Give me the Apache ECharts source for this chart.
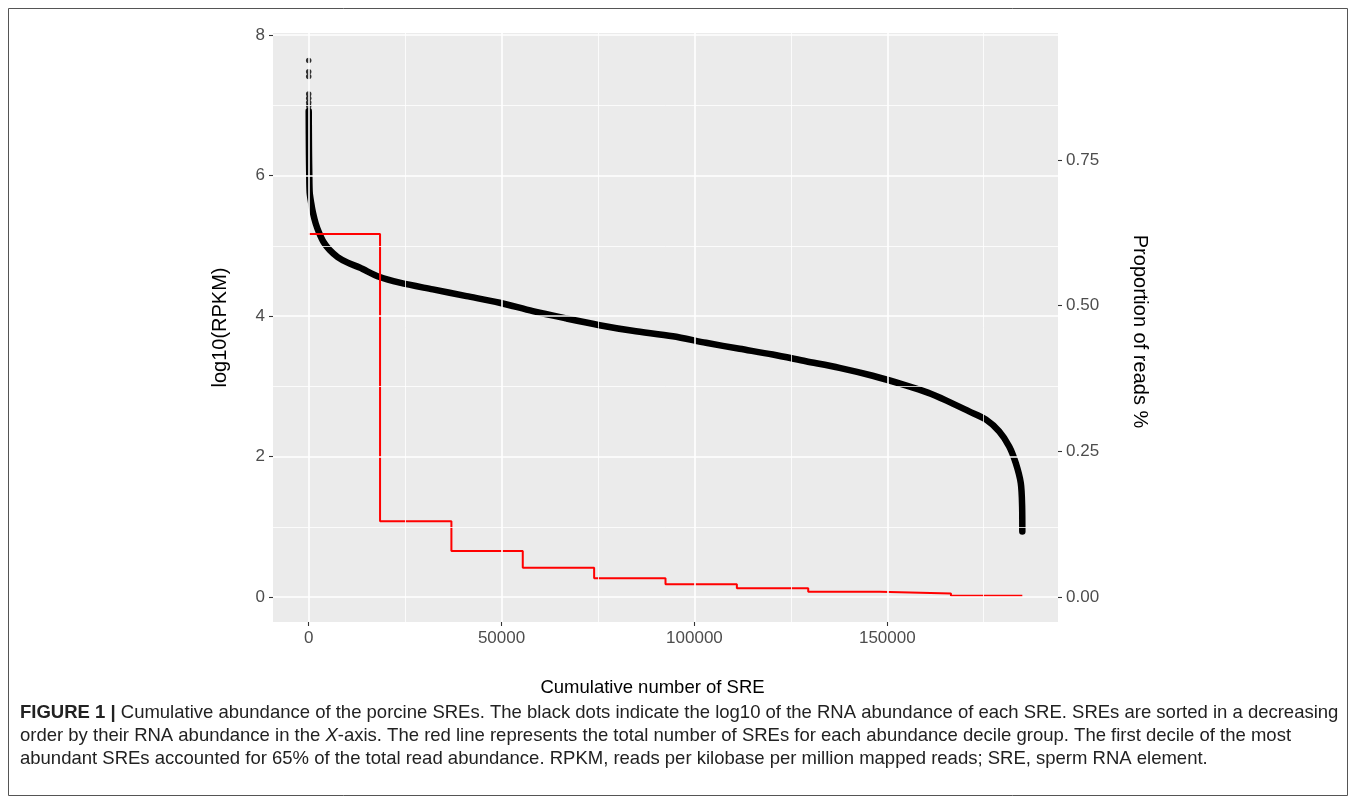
<!DOCTYPE html>
<html><head><meta charset="utf-8">
<script src="https://cdn.jsdelivr.net/npm/echarts@6/dist/echarts.min.js"></script>
<style>html,body{margin:0;padding:0;background:#fff}#c{width:1357px;height:804px}</style>
</head><body><div id="c"></div>
<script>
// ---- tick labels ----
const xTicks = [0, 50000, 100000, 150000];
const xMinorTicks = [25000, 75000, 125000, 175000];
const yTicks = [0, 2, 4, 6, 8];
const yMinorTicks = [1, 3, 5, 7];
const rightTicks = [0, 0.25, 0.5, 0.75];

// ---- black dots: log10(RPKM) of SREs sorted by abundance ----
const topOutlierX = [1, 2, 3, 4, 5, 6, 7];
const topOutlierY = [7.64, 7.48, 7.41, 7.16, 7.10, 7.04, 6.99];
const curveX = [10, 40, 80, 150, 260, 650, 1110, 1810, 2670, 3890, 5440, 7510, 10100, 13200, 18400,
  23600, 32200, 40900, 49500, 58100, 66800, 75400, 84000, 94400, 103000, 111700, 120300, 128900,
  137600, 146200, 155000, 160500, 165200, 171200, 175600, 179000, 181600, 183300, 184600, 184950, 185000];
const curveY = [6.92, 6.6, 6.3, 6.02, 5.76, 5.61, 5.47, 5.32, 5.19, 5.05, 4.94, 4.84, 4.76, 4.69, 4.555,
  4.475, 4.379, 4.284, 4.19, 4.07, 3.966, 3.87, 3.79, 3.713, 3.619, 3.534, 3.452, 3.357,
  3.263, 3.15, 3.01, 2.91, 2.80, 2.643, 2.525, 2.358, 2.144, 1.907, 1.622, 1.288, 0.932];

// ---- red line: proportion of reads per abundance decile ----
const decileStartX = [0, 18500, 37000, 55500, 74000, 92500, 111000, 129500, 148000, 166500];
const decileProportion = [0.623, 0.130, 0.079, 0.050, 0.032, 0.022, 0.015, 0.009, 0.006, 0.002];
const totalSRE = 185000;

const FONT = "'Liberation Sans', Arial, sans-serif";

const curveData = curveX.map((x, i) => [x, curveY[i]]);
const outlierData = topOutlierX.map((x, i) => [x, topOutlierY[i]]);
const redData = decileStartX.map((x, i) => [x, decileProportion[i]]);
redData.push([totalSRE, decileProportion[decileProportion.length - 1]]);

function gridLines(vals, key, w) {
  return {
    type: 'line', data: [], z: 1, silent: true,
    xAxisIndex: 0, yAxisIndex: 0,
    markLine: {
      silent: true, symbol: ['none', 'none'], animation: false,
      label: { show: false },
      lineStyle: { color: '#ffffff', width: w, type: 'solid' },
      emphasis: { disabled: true },
      data: vals.map(v => ({ [key]: v }))
    }
  };
}

const chart = echarts.init(document.getElementById('c'), null, { renderer: 'canvas' });
chart.setOption({
  animation: false,
  backgroundColor: '#ffffff',
  grid: { left: 273, right: 299, top: 33, bottom: 182, show: true,
          backgroundColor: '#EBEBEB', borderWidth: 0, containLabel: false },
  xAxis: {
    type: 'value', min: -9250, max: 194250,
    axisLine: { show: false, onZero: false },
    splitLine: { show: false },
    axisTick: { show: true, customValues: xTicks, length: 4, lineStyle: { color: '#333333', width: 1.1 } },
    axisLabel: { customValues: xTicks, color: '#4D4D4D', fontSize: 17, fontFamily: FONT, margin: 8,
                 formatter: v => String(v) },
    name: 'Cumulative number of SRE', nameLocation: 'middle', nameGap: 56,
    nameTextStyle: { fontSize: 18.5, color: '#000', fontFamily: FONT, padding: [0, 26, 0, 0] }
  },
  yAxis: [{
    type: 'value', min: -0.356, max: 8.03,
    axisLine: { show: false, onZero: false },
    splitLine: { show: false },
    axisTick: { show: true, customValues: yTicks, length: 4, lineStyle: { color: '#333333', width: 1.1 } },
    axisLabel: { customValues: yTicks, color: '#4D4D4D', fontSize: 17, fontFamily: FONT, margin: 8,
                 formatter: v => String(v) },
    name: 'log10(RPKM)', nameLocation: 'middle', nameRotate: 90, nameGap: 43,
    nameTextStyle: { fontSize: 20, color: '#000', fontFamily: FONT }
  }, {
    type: 'value', position: 'right', min: -0.0429, max: 0.968,
    axisLine: { show: false, onZero: false },
    splitLine: { show: false },
    axisTick: { show: true, customValues: rightTicks, length: 4, lineStyle: { color: '#333333', width: 1.1 } },
    axisLabel: { customValues: rightTicks, color: '#4D4D4D', fontSize: 17, fontFamily: FONT, margin: 8,
                 formatter: v => v.toFixed(2) },
    name: 'Proportion of reads %', nameLocation: 'middle', nameRotate: -90, nameGap: 72,
    nameTextStyle: { fontSize: 20, color: '#000', fontFamily: FONT, padding: [0, 0, 0, 8] }
  }],
  series: [
    gridLines(yMinorTicks, 'yAxis', 0.8),
    gridLines(xMinorTicks, 'xAxis', 0.8),
    gridLines(yTicks, 'yAxis', 1.6),
    gridLines(xTicks, 'xAxis', 1.6),
    {
      type: 'line', name: 'log10 RPKM', data: curveData, z: 3, silent: true,
      showSymbol: false, symbol: 'none', smooth: 0.3,
      lineStyle: { color: '#000', width: 6.5, cap: 'round', join: 'round' }
    },
    {
      type: 'scatter', name: 'top', data: outlierData, z: 3, silent: true,
      symbolSize: 5.5, itemStyle: { color: '#000' }
    },
    {
      type: 'line', name: 'Proportion', yAxisIndex: 1, data: redData, z: 4, silent: true,
      step: 'end', showSymbol: false, symbol: 'none',
      lineStyle: { color: '#FF0000', width: 2 }
    }
  ],
  graphic: [
    { type: 'rect', silent: true, shape: { x: 8.5, y: 8.5, width: 1339, height: 787 },
      style: { fill: 'none', stroke: '#555555', lineWidth: 1 } },
    { type: 'text', silent: true, x: 20, y: 713,
      style: { text: '{b|FIGURE 1 |} Cumulative abundance of the porcine SREs. The black dots indicate the log10 of the RNA abundance of each SRE. SREs are sorted in a decreasing',
               rich: { b: { fontWeight: 'bold', fontSize: 18.5, fontFamily: FONT, fill: '#222' } },
               fontSize: 18.5, fontFamily: FONT, fill: '#222', verticalAlign: 'middle' } },
    { type: 'text', silent: true, x: 20, y: 736,
      style: { text: 'order by their RNA abundance in the {i|X}-axis. The red line represents the total number of SREs for each abundance decile group. The first decile of the most',
               rich: { i: { fontStyle: 'italic', fontSize: 18.5, fontFamily: FONT, fill: '#222' } },
               fontSize: 18.5, fontFamily: FONT, fill: '#222', verticalAlign: 'middle' } },
    { type: 'text', silent: true, x: 20, y: 759,
      style: { text: 'abundant SREs accounted for 65% of the total read abundance. RPKM, reads per kilobase per million mapped reads; SRE, sperm RNA element.',
               fontSize: 18.5, fontFamily: FONT, fill: '#222', verticalAlign: 'middle' } }
  ]
});
</script>
</body></html>
